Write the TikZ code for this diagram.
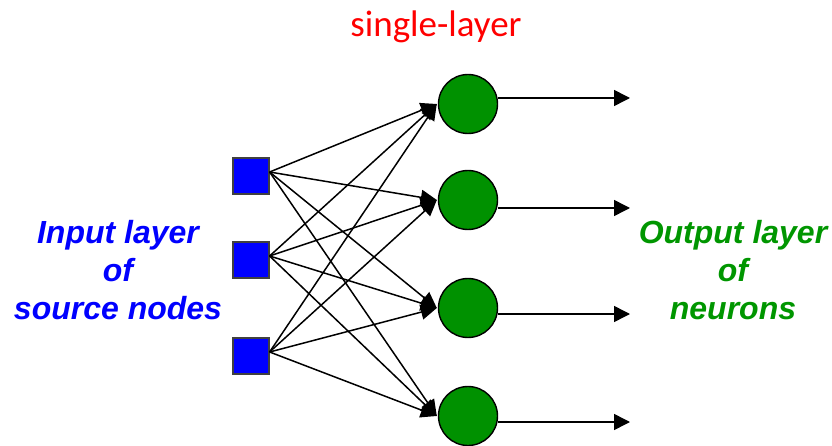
\documentclass[tikz,border=0pt]{standalone}
\usepackage{fontspec}
\setmainfont{Liberation Sans}
\newfontfamily\calfont{Carlito}
\usetikzlibrary{arrows.meta}
\definecolor{neurongreen}{RGB}{0,145,0}
\definecolor{labelgreen}{RGB}{0,150,0}
\tikzset{
  srcbox/.style={draw=black!75, line width=1.2pt, fill=blue, minimum size=36pt, inner sep=0pt},
  neuron/.style={circle, draw=black, line width=1.4pt, fill=neurongreen, minimum size=59pt, inner sep=0pt},
  link/.style={line width=1.5pt, -{Triangle[length=16pt,width=15pt]}},
  outlink/.style={line width=1.5pt, -{Triangle[length=16pt,width=16pt]}},
  sidetext/.style={font=\fontsize{32}{38}\selectfont\bfseries\itshape, align=center}
}
\begin{document}
\begin{tikzpicture}[x=1pt,y=-1pt]
  \useasboundingbox (0,0) rectangle (832,446);
  % input layer
  \node[srcbox] (s1) at (251,176) {};
  \node[srcbox] (s2) at (251,260) {};
  \node[srcbox] (s3) at (251,356) {};
  % output neurons
  \node[neuron] (n1) at (468,104) {};
  \node[neuron] (n2) at (468,200) {};
  \node[neuron] (n3) at (468,308) {};
  \node[neuron] (n4) at (468,416) {};
  % free ends of the output arrows
  \coordinate (o1) at (630,98);
  \coordinate (o2) at (630,208);
  \coordinate (o3) at (630,314);
  \coordinate (o4) at (630,422);
  % full connections
  \foreach \s in {s1,s2,s3}
    \foreach \n in {n1,n2,n3,n4}
      \draw[link] ([yshift=4pt]\s.east) -- ([xshift=-1pt]\n.west);
  % outputs
  \draw[outlink] (n1.east |- o1) -- (o1);
  \draw[outlink] (n2.east |- o2) -- (o2);
  \draw[outlink] (n3.east |- o3) -- (o3);
  \draw[outlink] (n4.east |- o4) -- (o4);
  % labels
  \node[text=red, font=\calfont\fontsize{37}{42}\selectfont] (title) at (436,27) {single-layer};
  \node[sidetext, text=blue] (inlab) at (118,270) {Input layer\\of\\source nodes};
  \node[sidetext, text=labelgreen] (outlab) at (733,270) {Output layer\\of\\neurons};
\end{tikzpicture}
\end{document}
